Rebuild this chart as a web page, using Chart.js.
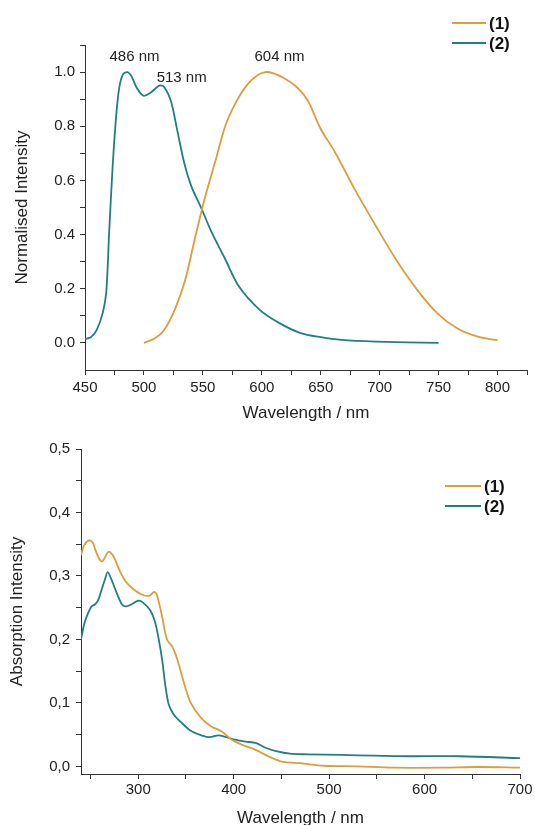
<!DOCTYPE html>
<html>
<head>
<meta charset="utf-8">
<script src="https://cdn.jsdelivr.net/npm/chart.js@4.4.1/dist/chart.umd.min.js"></script>
<style>
  html, body { margin: 0; padding: 0; background: #fff; overflow: hidden; }
  #wrap { position: relative; width: 535px; height: 825px; }
  #emission { position: absolute; left: 0; top: 0; width: 535px; height: 425px; }
  #absorption { position: absolute; left: 0; top: 420px; width: 535px; height: 405px; }
</style>
</head>
<body>
<div id="wrap">
  <canvas id="emission" width="535" height="425"></canvas>
  <canvas id="absorption" width="535" height="405"></canvas>
</div>
<script>
// Emisión normalizada
const emWl1 = [500, 509, 517, 526, 535, 543, 552, 561, 569, 578, 587, 596, 603, 610, 619, 630, 639, 650, 662, 679, 697, 714, 732, 749, 766, 784, 800];
const emInt1 = [0.0, 0.016, 0.047, 0.121, 0.232, 0.381, 0.541, 0.677, 0.801, 0.888, 0.950, 0.987, 1.0, 0.995, 0.977, 0.943, 0.895, 0.790, 0.705, 0.566, 0.430, 0.307, 0.195, 0.109, 0.053, 0.022, 0.010];
const emWl2 = [450, 455, 460, 465, 468, 470.5, 473.5, 476.5, 479, 482, 486, 489.5, 494, 499.5, 505, 513, 517, 523, 528.5, 534, 540, 549, 557.5, 569, 580.5, 598, 615, 633, 650, 667.5, 696.5, 750];
const emInt2 = [0.014, 0.021, 0.048, 0.110, 0.185, 0.408, 0.655, 0.841, 0.941, 0.990, 1.0, 0.984, 0.941, 0.913, 0.922, 0.950, 0.946, 0.891, 0.780, 0.668, 0.581, 0.494, 0.408, 0.309, 0.209, 0.123, 0.073, 0.036, 0.021, 0.011, 0.005, 0.0];

// Absorción
const abWl1 = [240, 243.5, 249, 252.5, 255, 259.5, 262.5, 267.5, 270, 275, 280, 287, 296, 305, 312, 316.5, 319.5, 325, 330, 335.5, 341, 348, 355, 366, 376.5, 387.5, 398, 409, 423, 437.5, 451.5, 469.5, 494.5, 530, 566, 620, 655, 700];
const abVal1 = [0.333, 0.349, 0.356, 0.352, 0.341, 0.326, 0.323, 0.336, 0.338, 0.328, 0.310, 0.291, 0.278, 0.270, 0.269, 0.275, 0.270, 0.236, 0.200, 0.189, 0.168, 0.131, 0.100, 0.076, 0.063, 0.055, 0.042, 0.034, 0.026, 0.015, 0.007, 0.005, 0.001, 0.0, -0.002, -0.002, -0.001, -0.002];
const abWl2 = [240, 243.5, 247, 251, 254.5, 258, 261.5, 265, 268, 272, 277.5, 283, 287.5, 292.5, 300, 305, 312.5, 317.5, 321, 325, 328.5, 332, 337.5, 344.5, 355, 366, 375, 384, 392.5, 401.5, 412.5, 423, 434, 444.5, 459, 477, 512, 548, 584, 637.5, 700];
const abVal2 = [0.200, 0.225, 0.240, 0.252, 0.255, 0.262, 0.278, 0.294, 0.306, 0.294, 0.273, 0.255, 0.252, 0.255, 0.261, 0.258, 0.246, 0.228, 0.204, 0.168, 0.126, 0.097, 0.081, 0.070, 0.056, 0.049, 0.046, 0.049, 0.046, 0.042, 0.039, 0.037, 0.029, 0.024, 0.020, 0.019, 0.018, 0.017, 0.016, 0.016, 0.013];

// Marcas y etiquetas de los ejes
const emXTicks = [450, 475, 500, 525, 550, 575, 600, 625, 650, 675, 700, 725, 750, 775, 800, 825];
const emXLabels = ['450', '', '500', '', '550', '', '600', '', '650', '', '700', '', '750', '', '800', ''];
const emYTicks = [0, 0.1, 0.2, 0.3, 0.4, 0.5, 0.6, 0.7, 0.8, 0.9, 1.0, 1.1];
const emYLabels = ['0.0', '', '0.2', '', '0.4', '', '0.6', '', '0.8', '', '1.0', ''];
const abXTicks = [250, 300, 350, 400, 450, 500, 550, 600, 650, 700];
const abXLabels = ['', '300', '', '400', '', '500', '', '600', '', '700'];
const abYTicks = [0, 0.05, 0.1, 0.15, 0.2, 0.25, 0.3, 0.35, 0.4, 0.45, 0.5];
const abYLabels = ['0,0', '', '0,1', '', '0,2', '', '0,3', '', '0,4', '', '0,5'];

// Etiquetas de picos (texto, x en nm, y en intensidad)
const peakLabels = ['486 nm', '513 nm', '604 nm'];
const peakX = [492, 532, 615];
const peakY = [1.057, 0.978, 1.055];

const seriesNames = ['1', '2'];
const orange = '#e09b3d';
const teal = '#207f80';
const axisColor = '#333';
const FONT = "'Liberation Sans', Arial, sans-serif";

Chart.defaults.font.family = FONT;
Chart.defaults.color = '#222';

const toPoints = (xs, ys) => xs.map((x, i) => ({ x: x, y: ys[i] }));

function lineDataset(name, xs, ys, color) {
    return {
        label: name,
        data: toPoints(xs, ys),
        borderColor: color,
        backgroundColor: color,
        borderWidth: 1.8,
        pointRadius: 0,
        tension: 0.3,
        fill: false
    };
}

function axis(opts) {
    return {
        type: 'linear',
        min: opts.min,
        max: opts.max,
        border: { display: true, color: axisColor, width: 1 },
        grid: { display: true, drawOnChartArea: false, drawTicks: true, tickLength: 5, color: axisColor },
        ticks: {
            autoSkip: false,
            maxRotation: 0,
            padding: opts.pad,
            color: '#222',
            font: { size: 15 },
            callback: (v, i) => opts.labels[i]
        },
        title: {
            display: true,
            text: opts.title,
            color: '#222',
            font: { size: 17 },
            padding: opts.titlePad
        },
        afterBuildTicks: (scale) => {
            scale.ticks = opts.ticks.map(v => ({ value: v }));
        },
        afterFit: opts.fit
    };
}

// Leyenda dibujada a mano, arriba a la derecha
function legendPlugin(x0, x1, ys) {
    return {
        id: 'customLegend',
        afterDraw(chart) {
            const ctx = chart.ctx;
            ctx.save();
            chart.data.datasets.forEach((ds, i) => {
                ctx.strokeStyle = ds.borderColor;
                ctx.lineWidth = 2;
                ctx.beginPath();
                ctx.moveTo(x0, ys[i]);
                ctx.lineTo(x1, ys[i]);
                ctx.stroke();
                ctx.fillStyle = '#111';
                ctx.font = 'bold 17px ' + FONT;
                ctx.textBaseline = 'middle';
                ctx.textAlign = 'left';
                ctx.fillText('(' + ds.label + ')', x1 + 3, ys[i] + 1);
            });
            ctx.restore();
        }
    };
}

const peakPlugin = {
    id: 'peakLabels',
    afterDatasetsDraw(chart) {
        const ctx = chart.ctx;
        const xs = chart.scales.x, ys = chart.scales.y;
        ctx.save();
        ctx.fillStyle = '#222';
        ctx.font = '15px ' + FONT;
        ctx.textAlign = 'center';
        ctx.textBaseline = 'middle';
        peakLabels.forEach((txt, i) => {
            ctx.fillText(txt, xs.getPixelForValue(peakX[i]), ys.getPixelForValue(peakY[i]));
        });
        ctx.restore();
    }
};

// 1. Espectro de emisión
new Chart(document.getElementById('emission'), {
    type: 'line',
    data: {
        datasets: [
            lineDataset(seriesNames[0], emWl1, emInt1, orange),
            lineDataset(seriesNames[1], emWl2, emInt2, teal)
        ]
    },
    options: {
        responsive: false,
        animation: false,
        layout: { padding: { top: 45, right: 8, left: 0, bottom: 0 } },
        plugins: { legend: { display: false }, tooltip: { enabled: false } },
        scales: {
            x: axis({
                min: 450, max: 825, pad: 4, ticks: emXTicks, labels: emXLabels,
                title: 'Wavelength / nm', titlePad: { top: 0, bottom: 1.5 },
                fit: s => { s.height = 55; }
            }),
            y: axis({
                min: -0.1, max: 1.1, pad: 5, ticks: emYTicks, labels: emYLabels,
                title: 'Normalised Intensity', titlePad: { top: 12, bottom: 0 },
                fit: s => { s.width = 85; }
            })
        }
    },
    plugins: [peakPlugin, legendPlugin(452, 486, [23, 43])]
});

// 2. Espectro de absorción
new Chart(document.getElementById('absorption'), {
    type: 'line',
    data: {
        datasets: [
            lineDataset(seriesNames[0], abWl1, abVal1, orange),
            lineDataset(seriesNames[1], abWl2, abVal2, teal)
        ]
    },
    options: {
        responsive: false,
        animation: false,
        layout: { padding: { top: 29, right: 15, left: 0, bottom: 0 } },
        plugins: { legend: { display: false }, tooltip: { enabled: false } },
        scales: {
            x: axis({
                min: 240, max: 700, pad: 2, ticks: abXTicks, labels: abXLabels,
                title: 'Wavelength / nm', titlePad: { top: 0, bottom: -3.5 },
                fit: s => { s.height = 51; }
            }),
            y: axis({
                min: -0.012, max: 0.5, pad: 6, ticks: abYTicks, labels: abYLabels,
                title: 'Absorption Intensity', titlePad: { top: 7.5, bottom: 0 },
                fit: s => { s.width = 81; }
            })
        }
    },
    plugins: [legendPlugin(445, 481, [66, 86])]
});
</script>
</body>
</html>
